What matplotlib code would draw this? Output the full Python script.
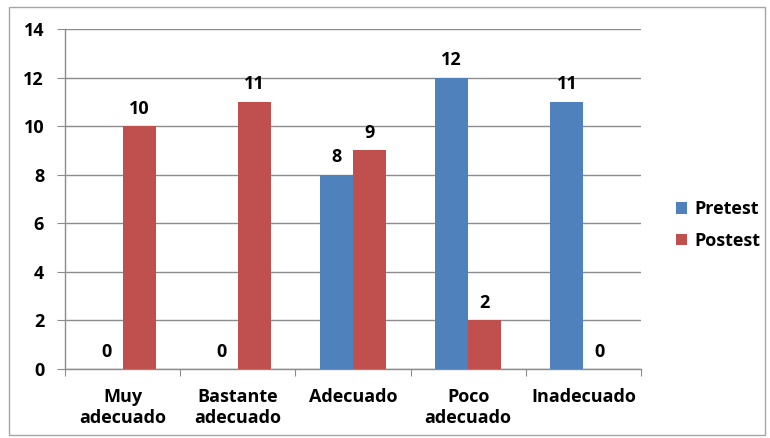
import matplotlib
matplotlib.use("Agg")
import matplotlib.pyplot as plt
from matplotlib.patches import Rectangle
import numpy as np

categories = ["Muy\nadecuado", "Bastante\nadecuado", "Adecuado", "Poco\nadecuado", "Inadecuado"]
pretest = [0, 0, 8, 12, 11]
postest = [10, 11, 9, 2, 0]
yticks = [0, 2, 4, 6, 8, 10, 12, 14]

plt.rcParams['font.family'] = ['Open Sans', 'DejaVu Sans']
plt.rcParams['font.weight'] = 'bold'

FS = 13
W, H = 770, 438
fig = plt.figure(figsize=(W/100, H/100), dpi=100)
ax = fig.add_axes([65/W, 1-369/H, (641-65)/W, (369-29)/H])

grid_c = "#8c8c8c"
x = np.arange(len(categories))
bw = 0.287
b1 = ax.bar(x - bw/2, pretest, bw, color="#4F81BD", label="Pretest", zorder=3)
b2 = ax.bar(x + bw/2, postest, bw, color="#C0504D", label="Postest", zorder=3)

for bars, vals in ((b1, pretest), (b2, postest)):
    for r, v in zip(bars, vals):
        ax.annotate(str(v), (r.get_x()+r.get_width()/2, v), xytext=(0, 12.5),
                    textcoords="offset points", ha="center", va="center",
                    fontsize=FS, fontweight="bold", color="black")

ax.set_xlim(-0.5, len(categories)-0.5)
ax.set_ylim(0, 14)
ax.set_yticks(yticks)
ax.set_yticklabels([str(t) for t in yticks], fontsize=FS, fontweight="bold")
ax.yaxis.grid(True, color=grid_c, linewidth=1, zorder=0)
ax.set_axisbelow(True)

ax.set_xticks(np.arange(len(categories)+1) - 0.5)
ax.set_xticklabels([])
ax.set_xticks(x, minor=True)
ax.set_xticklabels(categories, minor=True, fontsize=FS, fontweight="bold", linespacing=1.15)
ax.tick_params(axis='x', which='minor', length=0, pad=14)
ax.tick_params(axis='x', which='major', length=5, color=grid_c, direction='out')
ax.tick_params(axis='y', length=6, color=grid_c, direction='out', pad=9)

for s in ["top", "right"]:
    ax.spines[s].set_visible(False)
for s in ["left", "bottom"]:
    ax.spines[s].set_color(grid_c)
    ax.spines[s].set_linewidth(1)

leg = fig.legend(handles=[b1, b2], loc="center left", bbox_to_anchor=(676/W, 1-225/H),
                 frameon=False, fontsize=FS, handlelength=0.6, handleheight=0.6,
                 handletextpad=0.4, labelspacing=0.75, borderpad=0, borderaxespad=0)
for t in leg.get_texts():
    t.set_fontweight("bold")

fig.patches.append(Rectangle((9/W, 1-435/H), (765-9)/W, (435-7)/H, transform=fig.transFigure,
                             fill=False, edgecolor="#a6a6a6", linewidth=1))

fig.savefig("out.png", dpi=100)
